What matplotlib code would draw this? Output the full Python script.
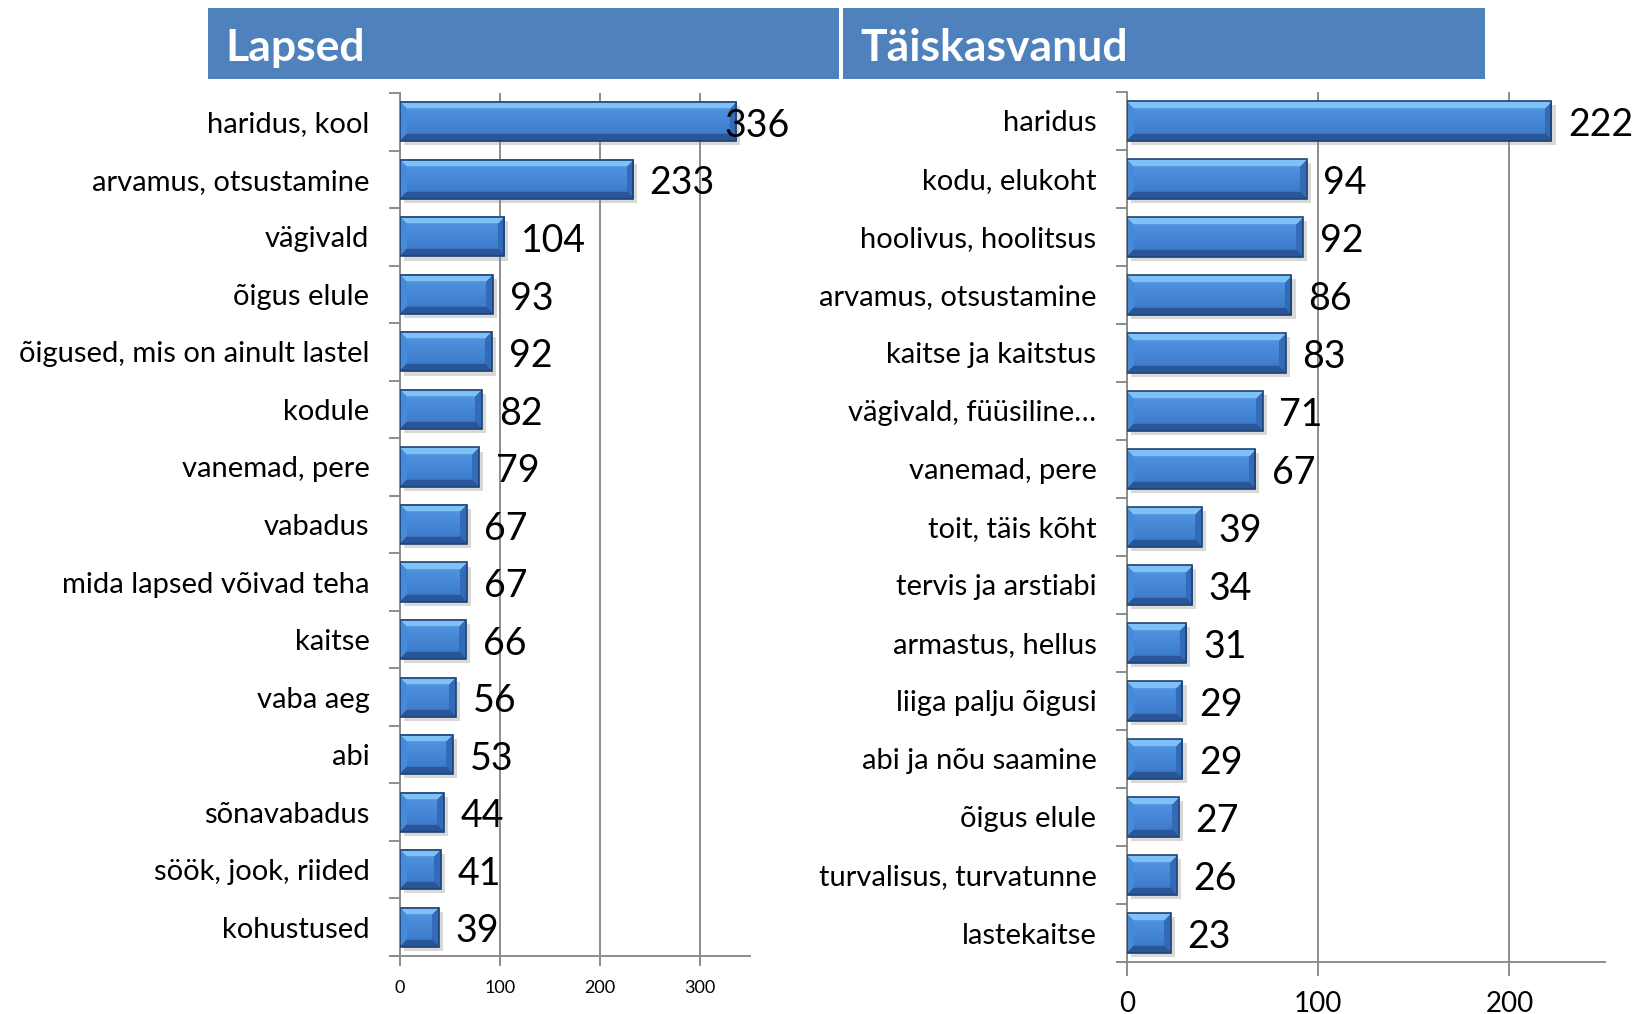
import numpy as np
import matplotlib
matplotlib.use("Agg")
import matplotlib.pyplot as plt
import matplotlib.patheffects as pe
from matplotlib.patches import Rectangle

plt.rcParams['font.family'] = ['Lato', 'DejaVu Sans']

kids_labels = ["haridus, kool", "arvamus, otsustamine", "vägivald", "õigus elule",
               "õigused, mis on ainult lastel", "kodule", "vanemad, pere", "vabadus",
               "mida lapsed võivad teha", "kaitse", "vaba aeg", "abi", "sõnavabadus",
               "söök, jook, riided", "kohustused"]
kids_values = [336, 233, 104, 93, 92, 82, 79, 67, 67, 66, 56, 53, 44, 41, 39]
kids_ticks = [0, 100, 200, 300]

adult_labels = ["haridus", "kodu, elukoht", "hoolivus, hoolitsus", "arvamus, otsustamine",
                "kaitse ja kaitstus", "vägivald, füüsiline…", "vanemad, pere",
                "toit, täis kõht", "tervis ja arstiabi", "armastus, hellus",
                "liiga palju õigusi", "abi ja nõu saamine", "õigus elule",
                "turvalisus, turvatunne", "lastekaitse"]
adult_values = [222, 94, 92, 86, 83, 71, 67, 39, 34, 31, 29, 29, 27, 26, 23]
adult_ticks = [0, 100, 200]

titles = ["Lapsed", "Täiskasvanud"]

W, H = 1635, 1014
fig = plt.figure(figsize=(W / 100, H / 100), dpi=100)

HEADER = '#4F81BD'
GRID = '#8c8c8c'


def bevel_img(h, w, b):
	yy, xx = np.mgrid[0:h, 0:w]
	dt = yy
	db = h - 1 - yy
	dl = xx
	dr = w - 1 - xx
	img = np.zeros((h, w, 3))
	# face: vertical gradient
	t = (yy / max(h - 1, 1))[..., None]
	top_c = np.array([0.33, 0.60, 0.90])
	bot_c = np.array([0.22, 0.46, 0.77])
	img[:] = top_c * (1 - t) + bot_c * t
	m = np.minimum(np.minimum(dt, db), np.minimum(dl, dr))
	edge = m < b
	which = np.argmin(np.stack([dt, db, dl, dr]), axis=0)
	cols = [np.array([0.50, 0.76, 0.97]), np.array([0.16, 0.34, 0.60]),
			np.array([0.28, 0.54, 0.86]), np.array([0.20, 0.42, 0.72])]
	for k in range(4):
		sel = edge & (which == k)
		img[sel] = cols[k]
	return img


def panel(rect, labels, values, ticks, xmax, tick_fs, tick_pad, tick_len):
	ax = fig.add_axes(rect)
	n = len(values)
	y = np.arange(n)
	h = 0.68
	ax.set_xlim(0, xmax)
	ax.set_ylim(n - 0.5, -0.5)
	ax.xaxis.grid(True, color=GRID, lw=1.4, zorder=0)
	ax.set_axisbelow(True)
	for s in ['top', 'right']:
		ax.spines[s].set_visible(False)
	for s in ['left', 'bottom']:
		ax.spines[s].set_color(GRID)
		ax.spines[s].set_linewidth(1.4)
	ax.spines['bottom'].set_bounds(-9 * xmax / (rect[2] * W), xmax)
	ax.spines['bottom'].set_clip_on(False)

	ax.barh(y, values, height=h, color='#3a77c6', zorder=2,
			path_effects=[pe.SimplePatchShadow(offset=(3, -3), shadow_rgbFace='#909090', alpha=0.35),
						  pe.Normal()])
	px_per_unit = ax.transData.transform((1, 0))[0] - ax.transData.transform((0, 0))[0]
	px_per_row = abs(ax.transData.transform((0, 1))[1] - ax.transData.transform((0, 0))[1])
	bh = int(round(h * px_per_row))
	for yi, v in zip(y, values):
		bw = max(int(round(v * px_per_unit)), 2)
		ax.imshow(bevel_img(bh, bw, 7), extent=(0, v, yi + h / 2, yi - h / 2),
				  aspect='auto', origin='upper', zorder=3, interpolation='bilinear')
	ax.barh(y, values, height=h, fill=False, edgecolor='#1d4272', lw=1.2, zorder=4)
	ax.set_xlim(0, xmax)
	ax.set_ylim(n - 0.5, -0.5)

	for yi, v in zip(y, values):
		off = 12 if v < 0.95 * xmax else -8
		ax.annotate(str(v), (v, yi), xytext=(off, -3), textcoords='offset points',
					ha='left', va='center', fontsize=27, color='black', zorder=5,
					annotation_clip=False)

	ax.set_yticks(y)
	ax.set_yticklabels(labels, fontsize=21)
	ax.set_yticks(np.arange(n + 1) - 0.5, minor=True)
	ax.tick_params(axis='y', which='major', length=0, pad=22)
	ax.tick_params(axis='y', which='minor', length=8, width=1.4, color=GRID)
	ax.set_xticks(ticks)
	ax.tick_params(axis='x', which='major', length=tick_len, width=1.4, color=GRID,
				   labelsize=tick_fs, pad=tick_pad)
	return ax


panel([400 / W, 1 - 956 / H, 350 / W, 863 / H], kids_labels, kids_values, kids_ticks,
	  350, 13, 10, 7)
panel([1127 / W, 1 - 962 / H, 478 / W, 870 / H], adult_labels, adult_values, adult_ticks,
	  250, 20, 11, 10)

# header bands
for (x0, x1), title in zip([(207.5, 839), (842.5, 1485)], titles):
	fig.patches.append(Rectangle((x0 / W, 1 - 79 / H), (x1 - x0) / W, 71 / H,
								 transform=fig.transFigure, facecolor=HEADER,
								 edgecolor='none', zorder=0))
	fig.text((x0 + 18) / W, 1 - 48 / H, title, color='white', fontsize=32,
			 fontweight='bold', ha='left', va='center')

fig.savefig('out.png', dpi=100)
